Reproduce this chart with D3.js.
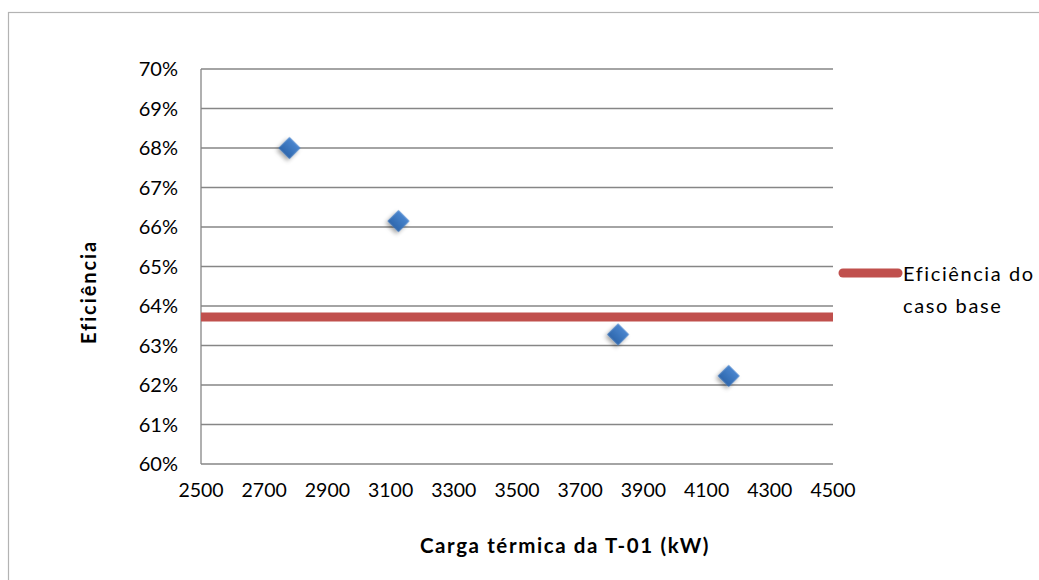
<!DOCTYPE html>
<html>
<head>
<meta charset="utf-8">
<script src="https://cdn.jsdelivr.net/npm/d3@7"></script>
<style>
  body { margin: 0; background: #fff; }
  svg { display: block; font-family: Lato, "Open Sans", sans-serif; }
</style>
</head>
<body>
<svg id="chart" width="1039" height="580"></svg>
<script>
// data
const cargaKW = [2780, 3125, 3820, 4170];
const eficiencia = [0.680, 0.6615, 0.6328, 0.6223];
const casoBaseX = [2500, 4500];
const casoBaseY = [0.6372, 0.6372];
const xTicks = [2500, 2700, 2900, 3100, 3300, 3500, 3700, 3900, 4100, 4300, 4500];
const yTicks = [0.60, 0.61, 0.62, 0.63, 0.64, 0.65, 0.66, 0.67, 0.68, 0.69, 0.70];
const legendLines = ["Eficiência do", "caso base"];

const width = 1039, height = 580;
const margin = {top: 69, right: 206, bottom: 116, left: 201};

const svg = d3.select('#chart');

// outer chart border
svg.append('rect')
    .attr('x', 8.5).attr('y', 12.5)
    .attr('width', width).attr('height', height)
    .attr('fill', 'none').attr('stroke', '#b3b3b3').attr('stroke-width', 1.2);

let x = d3.scaleLinear().domain([2500, 4500]).range([margin.left, width - margin.right]);
let y = d3.scaleLinear().domain([0.60, 0.70]).range([height - margin.bottom, margin.top]);

const defs = svg.append('defs');
const grad = defs.append('linearGradient').attr('id', 'dia')
    .attr('x1', 0).attr('y1', 0).attr('x2', 0).attr('y2', 1);
grad.append('stop').attr('offset', '0%').attr('stop-color', '#4a86cf');
grad.append('stop').attr('offset', '100%').attr('stop-color', '#2e67ad');
const shadow = defs.append('filter').attr('id', 'shadow')
    .attr('x', '-50%').attr('y', '-50%').attr('width', '200%').attr('height', '200%');
shadow.append('feDropShadow').attr('dx', 0).attr('dy', 3).attr('stdDeviation', 2.2)
    .attr('flood-color', '#000').attr('flood-opacity', 0.35);

// gridlines
svg.append('g')
    .selectAll('line')
    .data(yTicks)
    .join('line')
    .attr('x1', x(2500)).attr('x2', x(4500))
    .attr('y1', d => y(d)).attr('y2', d => y(d))
    .attr('stroke', '#868686').attr('stroke-width', 1.3);

// y axis line
svg.append('line')
    .attr('x1', x(2500)).attr('x2', x(2500))
    .attr('y1', y(0.60)).attr('y2', y(0.70))
    .attr('stroke', '#868686').attr('stroke-width', 1.3);

// y tick labels
svg.append('g')
    .selectAll('text')
    .data(yTicks)
    .join('text')
    .attr('x', x(2500) - 23)
    .attr('y', d => y(d))
    .attr('dy', '0.35em')
    .attr('text-anchor', 'end')
    .attr('font-size', 20)
    .attr('fill', '#000')
    .text(d => d3.format('.0%')(d));

// x tick labels
svg.append('g')
    .selectAll('text')
    .data(xTicks)
    .join('text')
    .attr('x', d => x(d))
    .attr('y', 497)
    .attr('text-anchor', 'middle')
    .attr('font-size', 19.5)
    .attr('fill', '#000')
    .text(d => d);

// base case line
const line = d3.line().x(d => x(d[0])).y(d => y(d[1]));
svg.append('path')
    .datum(casoBaseX.map((d, i) => [d, casoBaseY[i]]))
    .attr('d', line)
    .attr('stroke', '#c0504d').attr('stroke-width', 9).attr('fill', 'none');

// diamonds
const diamond = d3.symbol().type(d3.symbolSquare).size(240);
svg.append('g')
    .selectAll('path')
    .data(cargaKW.map((d, i) => [d, eficiencia[i]]))
    .join('path')
    .attr('d', diamond)
    .attr('transform', d => `translate(${x(d[0])},${y(d[1])}) rotate(45)`)
    .attr('fill', 'url(#dia)')
    .attr('filter', 'url(#shadow)');

// axis titles
svg.append('text')
    .attr('x', 565)
    .attr('y', 553)
    .attr('text-anchor', 'middle')
    .attr('font-size', 20.5)
    .attr('font-weight', 'bold')
    .attr('letter-spacing', 1.6)
    .text('Carga térmica da T-01 (kW)');

svg.append('text')
    .attr('transform', 'translate(96,292) rotate(-90)')
    .attr('text-anchor', 'middle')
    .attr('font-size', 20)
    .attr('font-weight', 'bold')
    .attr('letter-spacing', 1.9)
    .text('Eficiência');

// legend
svg.append('line')
    .attr('x1', 843).attr('x2', 898)
    .attr('y1', 273).attr('y2', 273)
    .attr('stroke', '#c0504d').attr('stroke-width', 9).attr('stroke-linecap', 'round');
svg.append('g')
    .selectAll('text')
    .data(legendLines)
    .join('text')
    .attr('x', 903)
    .attr('y', (d, i) => 281 + i * 32)
    .attr('font-size', 20)
    .attr('letter-spacing', 1.6)
    .text(d => d);
</script>
</body>
</html>
